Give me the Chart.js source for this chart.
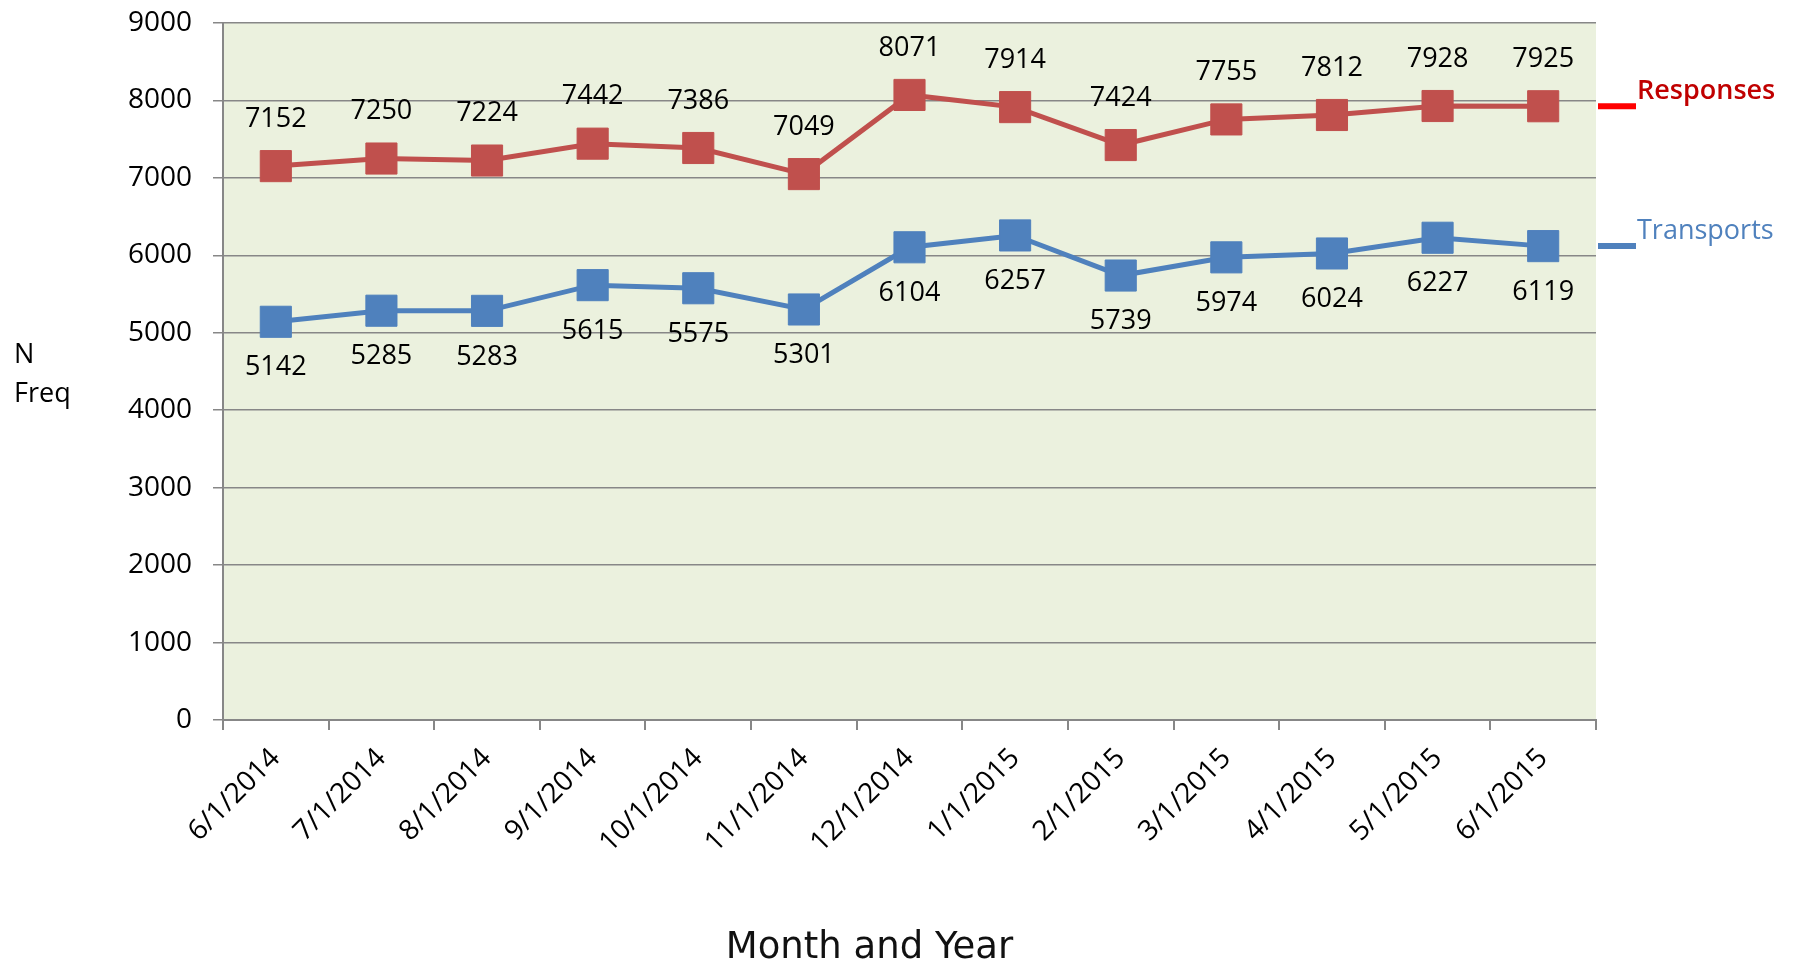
<!DOCTYPE html>
<html>
<head>
<meta charset="utf-8">
<script src="https://cdn.jsdelivr.net/npm/chart.js@4/dist/chart.umd.min.js"></script>
<style>
  body { margin: 0; background: #fff; }
  #wrap { width: 1796px; height: 965px; position: relative; }
</style>
</head>
<body>
<div id="wrap"><canvas id="chart"></canvas></div>
<script>
// chart data
const months = ['6/1/2014', '7/1/2014', '8/1/2014', '9/1/2014', '10/1/2014', '11/1/2014', '12/1/2014',
  '1/1/2015', '2/1/2015', '3/1/2015', '4/1/2015', '5/1/2015', '6/1/2015'];
const responses = [7152, 7250, 7224, 7442, 7386, 7049, 8071, 7914, 7424, 7755, 7812, 7928, 7925];
const transports = [5142, 5285, 5283, 5615, 5575, 5301, 6104, 6257, 5739, 5974, 6024, 6227, 6119];
const yTicks = [0, 1000, 2000, 3000, 4000, 5000, 6000, 7000, 8000, 9000];

const FONT = '"Open Sans", "Liberation Sans", sans-serif';
const gridGray = '#878787';

// plot background
const plotBg = {
  id: 'plotBg',
  beforeDraw(chart) {
    const a = chart.chartArea;
    const ctx = chart.ctx;
    ctx.save();
    ctx.fillStyle = '#EBF1DE';
    ctx.fillRect(a.left, a.top, a.right - a.left, a.bottom - a.top);
    ctx.restore();
  }
};

// value labels, series names at the right, axis titles
const extras = {
  id: 'extras',
  afterDatasetsDraw(chart) {
    const ctx = chart.ctx;
    const a = chart.chartArea;
    ctx.save();
    ctx.font = '27px ' + FONT;
    ctx.fillStyle = '#000';
    ctx.textAlign = 'center';
    ctx.textBaseline = 'middle';
    chart.data.datasets.forEach((ds, i) => {
      const meta = chart.getDatasetMeta(i);
      const off = ds.labelSide === 'above' ? -47 : 46;
      meta.data.forEach((pt, j) => {
        ctx.fillText(String(ds.data[j]), pt.x, pt.y + off);
      });
      // name at line end
      const last = meta.data[meta.data.length - 1];
      ctx.strokeStyle = ds.tagLine;
      ctx.lineWidth = 6;
      ctx.beginPath();
      ctx.moveTo(a.right + 2, last.y);
      ctx.lineTo(a.right + 40, last.y);
      ctx.stroke();
      ctx.save();
      ctx.font = (ds.tagBold ? '600 ' : '') + '27px ' + FONT;
      ctx.fillStyle = ds.tagColor;
      ctx.textAlign = 'left';
      ctx.textBaseline = 'alphabetic';
      ctx.fillText(ds.label, a.right + 41, last.y - 7);
      ctx.restore();
    });
    // y title
    ctx.textAlign = 'left';
    ctx.fillText('N', 14, 355);
    ctx.fillText('Freq', 14, 394);
    // x title
    ctx.font = '37px "DejaVu Sans", sans-serif';
    ctx.textAlign = 'center';
    ctx.textBaseline = 'alphabetic';
    ctx.fillStyle = '#111';
    ctx.fillText('Month and Year', (a.left + a.right) / 2 - 40, 958);
    ctx.restore();
  }
};

new Chart(document.getElementById('chart'), {
  type: 'line',
  data: {
    labels: months,
    datasets: [
      {
        label: 'Responses',
        data: responses,
        borderColor: '#C0504D',
        backgroundColor: '#C0504D',
        borderWidth: 5,
        pointStyle: 'rect',
        pointRadius: 22,
        pointBorderWidth: 1,
        pointBorderColor: '#C0504D',
        labelSide: 'above',
        tagLine: '#FF0000',
        tagColor: '#C00000',
        tagBold: true
      },
      {
        label: 'Transports',
        data: transports,
        borderColor: '#4F81BD',
        backgroundColor: '#4F81BD',
        borderWidth: 5,
        pointStyle: 'rect',
        pointRadius: 22,
        pointBorderWidth: 1,
        pointBorderColor: '#4F81BD',
        labelSide: 'below',
        tagLine: '#4F81BD',
        tagColor: '#4F81BD',
        tagBold: false
      }
    ]
  },
  options: {
    responsive: true,
    maintainAspectRatio: false,
    animation: false,
    layout: { padding: { top: 21, right: 200, left: 0, bottom: 0 } },
    plugins: {
      legend: { display: false },
      tooltip: { enabled: false }
    },
    scales: {
      x: {
        offset: true,
        grid: {
          offset: true,
          drawOnChartArea: false,
          drawTicks: true,
          tickLength: 10,
          color: gridGray,
          lineWidth: 2
        },
        border: { color: gridGray, width: 2 },
        ticks: {
          minRotation: 45,
          maxRotation: 45,
          padding: 12,
          color: '#000',
          font: { family: FONT, size: 28 }
        },
        afterFit(scale) { scale.height = 245; }
      },
      y: {
        min: 0,
        max: 9000,
        afterBuildTicks(scale) { scale.ticks = yTicks.map(v => ({ value: v })); },
        grid: {
          color: gridGray,
          lineWidth: 1.5,
          drawTicks: true,
          tickLength: 10
        },
        border: { color: gridGray, width: 2 },
        ticks: {
          padding: 21,
          color: '#000',
          font: { family: FONT, size: 28 },
          callback: v => String(v)
        },
        afterFit(scale) {
          scale.width = 223;
          scale.paddingTop = 0;
          scale.paddingBottom = 0;
        }
      }
    }
  },
  plugins: [plotBg, extras]
});
</script>
</body>
</html>
